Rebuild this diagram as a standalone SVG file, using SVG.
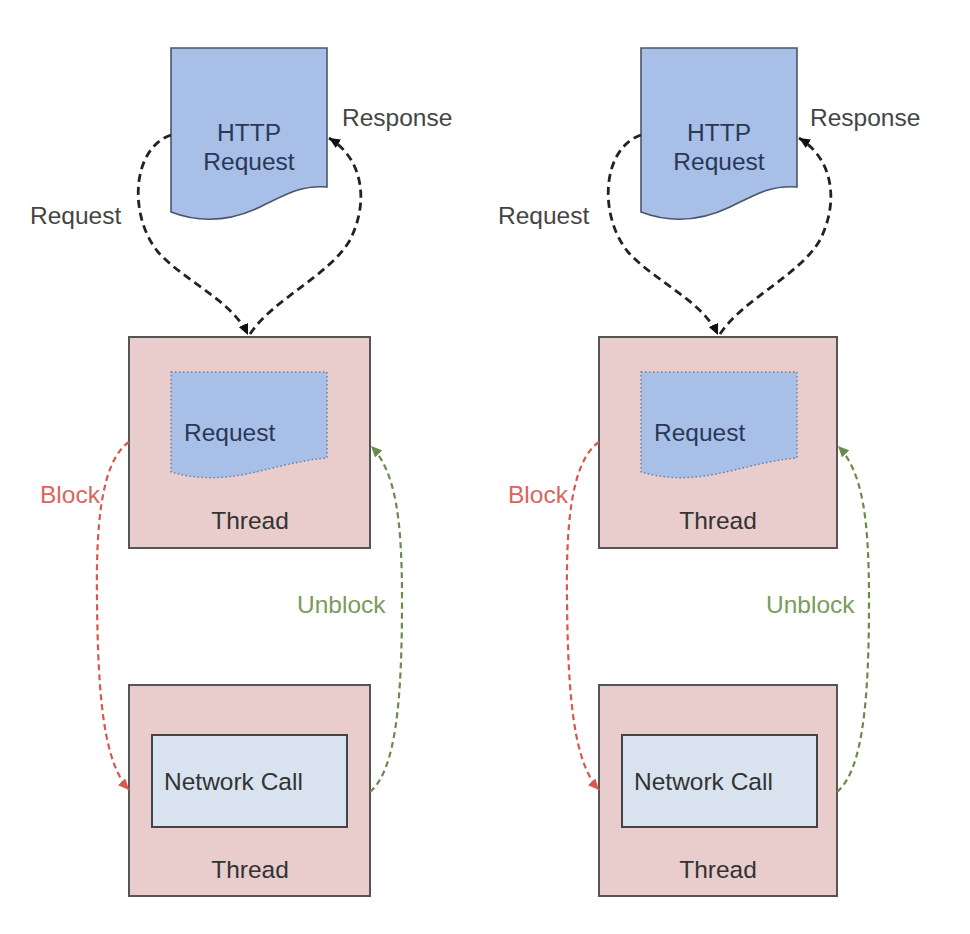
<svg xmlns="http://www.w3.org/2000/svg" width="970" height="934" viewBox="0 0 970 934">
<style>
text{font-family:"Liberation Sans",Arial,sans-serif;font-size:24.5px}
.doc{fill:#a8bfe8;stroke:#4a5568;stroke-width:1.6}
.idoc{fill:#a8bfe8;stroke:#6b7a90;stroke-width:1.4;stroke-dasharray:1.5 2.5}
.thr{fill:#e8cdcc;stroke:#555;stroke-width:2}
.net{fill:#d9e3f0;stroke:#444;stroke-width:2}
.dt{fill:#2a3856}
.tt{fill:#333}
.lb{fill:#444}
.blk{fill:#d9665c}
.unb{fill:#7c9a5c}
.ck{fill:none;stroke:#222;stroke-width:2.8;stroke-dasharray:8 5}
.cr{fill:none;stroke:#d9574d;stroke-width:2.2;stroke-dasharray:6 4}
.cg{fill:none;stroke:#6d8a4e;stroke-width:2.2;stroke-dasharray:6 4}
</style>
<defs>
<marker id="ak" markerUnits="userSpaceOnUse" markerWidth="12" markerHeight="10" refX="11" refY="5" orient="auto"><path d="M0,0 L11,5 L0,10 z" fill="#111"/></marker>
<marker id="ar" markerUnits="userSpaceOnUse" markerWidth="12" markerHeight="10" refX="11" refY="5" orient="auto"><path d="M0,0 L11,5 L0,10 z" fill="#d9574d"/></marker>
<marker id="ag" markerUnits="userSpaceOnUse" markerWidth="12" markerHeight="10" refX="11" refY="5" orient="auto"><path d="M0,0 L11,5 L0,10 z" fill="#6d8a4e"/></marker>
</defs>
<rect width="970" height="934" fill="#fff"/>

<g id="left">
<g id="http-doc-1">
<path class="doc" d="M171,48 H327 V187 C300,185 285,195 260,207 C235,219 205,225 171,212 Z"/>
<text class="dt" x="249" y="141" text-anchor="middle">HTTP</text>
<text class="dt" x="249" y="170" text-anchor="middle">Request</text>
</g>
<g id="thread-req-1">
<rect class="thr" x="129" y="337" width="241" height="211"/>
<path class="idoc" d="M171,372 H327 V458 C305,460 290,464 260,471 C235,477 205,482 171,472 Z"/>
<text class="dt" x="184" y="441">Request</text>
<text class="tt" x="250" y="529" text-anchor="middle">Thread</text>
</g>
<g id="thread-net-1">
<rect class="thr" x="129" y="685" width="241" height="211"/>
<rect class="net" x="152" y="735" width="195" height="92"/>
<text class="tt" x="164" y="790">Network Call</text>
<text class="tt" x="250" y="878" text-anchor="middle">Thread</text>
</g>
</g>

<g id="right" transform="translate(470,0)">
<g id="http-doc-2">
<path class="doc" d="M171,48 H327 V187 C300,185 285,195 260,207 C235,219 205,225 171,212 Z"/>
<text class="dt" x="249" y="141" text-anchor="middle">HTTP</text>
<text class="dt" x="249" y="170" text-anchor="middle">Request</text>
</g>
<g id="thread-req-2">
<rect class="thr" x="129" y="337" width="238" height="211"/>
<path class="idoc" d="M171,372 H327 V458 C305,460 290,464 260,471 C235,477 205,482 171,472 Z"/>
<text class="dt" x="184" y="441">Request</text>
<text class="tt" x="248" y="529" text-anchor="middle">Thread</text>
</g>
<g id="thread-net-2">
<rect class="thr" x="129" y="685" width="238" height="211"/>
<rect class="net" x="152" y="735" width="195" height="92"/>
<text class="tt" x="164" y="790">Network Call</text>
<text class="tt" x="248" y="878" text-anchor="middle">Thread</text>
</g>
</g>

<g id="connectors">
<g id="conn-left">
<path class="ck" d="M171,135 C132,148 128,215 158,252 C185,282 232,300 248,335" marker-end="url(#ak)"/>
<path class="ck" d="M250,334 C272,300 330,275 350,240 C370,200 362,158 329,138" marker-end="url(#ak)"/>
<path class="cr" d="M129,442 C100,462 96,530 97,600 C98,700 104,762 129,790" marker-end="url(#ar)"/>
<path class="cg" d="M370,792 C396,770 402,700 402,600 C402,520 396,472 371,446" marker-end="url(#ag)"/>
</g>
<g id="conn-right" transform="translate(470,0)">
<path class="ck" d="M171,135 C132,148 128,215 158,252 C185,282 232,300 248,335" marker-end="url(#ak)"/>
<path class="ck" d="M250,334 C272,300 330,275 350,240 C370,200 362,158 329,138" marker-end="url(#ak)"/>
<path class="cr" d="M129,442 C100,462 96,530 97,600 C98,700 104,762 129,790" marker-end="url(#ar)"/>
<path class="cg" d="M367,792 C393,770 399,700 399,600 C399,520 393,472 368,446" marker-end="url(#ag)"/>
</g>
</g>

<g id="labels">
<text class="lb" x="342" y="126">Response</text>
<text class="lb" x="30" y="224">Request</text>
<text class="blk" x="40" y="503">Block</text>
<text class="unb" x="297" y="613">Unblock</text>
<text class="lb" x="810" y="126">Response</text>
<text class="lb" x="498" y="224">Request</text>
<text class="blk" x="508" y="503">Block</text>
<text class="unb" x="766" y="613">Unblock</text>
</g>
</svg>
